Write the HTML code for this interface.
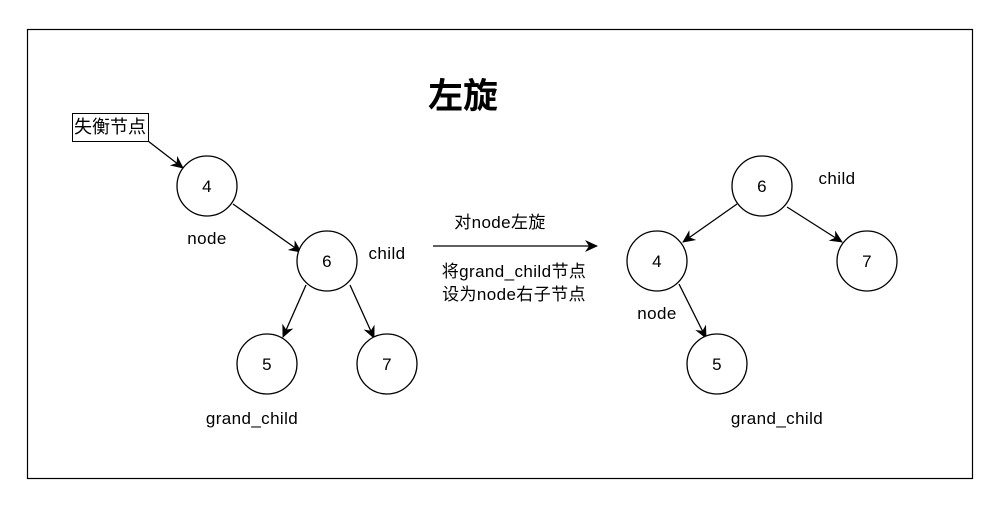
<!DOCTYPE html>
<html><head><meta charset="utf-8"><style>
body{margin:0;background:#fff;}
svg{display:block;}
text{font-family:"Liberation Sans","Noto Sans CJK SC",sans-serif;font-size:17px;letter-spacing:0.4px;fill:#000;}
</style></head><body>
<svg width="1007" height="507" viewBox="0 0 1007 507" xmlns="http://www.w3.org/2000/svg">
<defs><marker id="a" markerWidth="14" markerHeight="14" refX="12" refY="7" orient="auto" markerUnits="userSpaceOnUse"><path d="M0,1 L13,7 L0,13 L4,7 Z" fill="#000"/></marker></defs>
<rect x="27.5" y="29.5" width="945" height="449" fill="#fff" stroke="#000" stroke-width="1.2"/>
<text x="463" y="108" text-anchor="middle" style="font-size:35px;font-weight:bold;letter-spacing:0">左旋</text>
<rect x="72.5" y="113.5" width="76" height="28" fill="#fff" stroke="#000"/>
<text x="110" y="133" text-anchor="middle" style="font-size:18px;letter-spacing:0">失衡节点</text>
<g stroke="#000" stroke-width="1.3" fill="none">
<line x1="148" y1="141" x2="183" y2="168" marker-end="url(#a)"/>
<line x1="233" y1="204" x2="301" y2="252" marker-end="url(#a)"/>
<line x1="306" y1="285" x2="283" y2="337" marker-end="url(#a)"/>
<line x1="350" y1="285" x2="374" y2="338" marker-end="url(#a)"/>
<line x1="433" y1="246" x2="597" y2="246" marker-end="url(#a)"/>
<line x1="737" y1="204" x2="683" y2="242" marker-end="url(#a)"/>
<line x1="787" y1="207" x2="842" y2="242" marker-end="url(#a)"/>
<line x1="679" y1="284" x2="706" y2="338" marker-end="url(#a)"/>
<circle cx="207" cy="186" r="30" fill="#fff"/>
<circle cx="327" cy="261" r="30" fill="#fff"/>
<circle cx="267" cy="364" r="30" fill="#fff"/>
<circle cx="387" cy="364" r="30" fill="#fff"/>
<circle cx="762" cy="186" r="30" fill="#fff"/>
<circle cx="657" cy="261" r="30" fill="#fff"/>
<circle cx="867" cy="261" r="30" fill="#fff"/>
<circle cx="717" cy="364" r="30" fill="#fff"/>
</g>
<g text-anchor="middle">
<text x="207" y="192">4</text><text x="327" y="267">6</text><text x="267" y="370">5</text><text x="387" y="370">7</text>
<text x="762" y="192">6</text><text x="657" y="267">4</text><text x="867" y="267">7</text><text x="717" y="370">5</text>
<text x="207" y="244">node</text><text x="387" y="259">child</text><text x="252" y="424">grand_child</text>
<text x="837" y="184">child</text><text x="657" y="319">node</text><text x="777" y="424">grand_child</text>
<text x="500" y="228">对node左旋</text>
<text x="514" y="277">将grand_child节点</text>
<text x="514" y="300">设为node右子节点</text>
</g>
</svg>
</body></html>
